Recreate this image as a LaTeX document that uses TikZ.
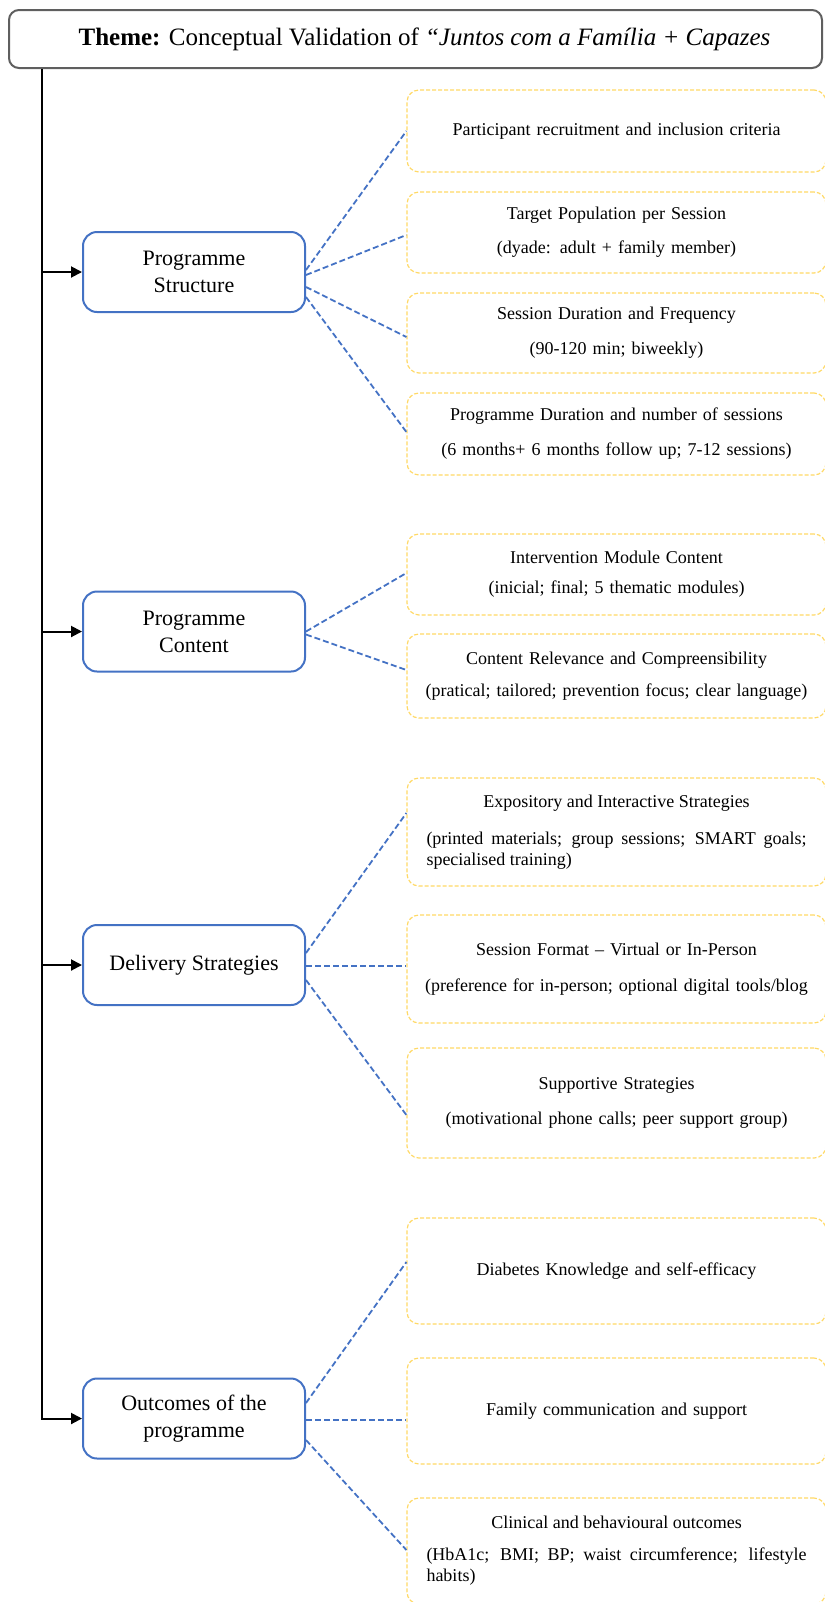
\documentclass[tikz,border=0pt]{standalone}
\usepackage{fontspec}
\setmainfont{Liberation Serif}
\usetikzlibrary{arrows.meta,calc}
\definecolor{linkblue}{RGB}{68,114,196}
\definecolor{softyellow}{RGB}{255,217,102}
\definecolor{framegrey}{RGB}{95,95,95}
\begin{document}
\begin{tikzpicture}[x=0.5pt,y=-0.5pt,
  theme/.style={draw=framegrey,line width=1pt,rounded corners=5pt,minimum width=406.5pt,minimum height=29pt,inner sep=0pt,font=\fontsize{12.5}{15}\selectfont},
  topic/.style={draw=linkblue,line width=1pt,rounded corners=7pt,minimum width=111pt,minimum height=40pt,inner sep=0pt,align=center,font=\fontsize{11}{13.5}\selectfont},
  item/.style={draw=softyellow,line width=0.6pt,dash pattern=on 2pt off 1pt,rounded corners=6pt,minimum width=209.5pt,text width=200pt,align=center,font=\fontsize{9}{10.5}\selectfont},
  longitem/.style={item,text width=190pt,align=justify},
  link/.style={draw=linkblue,line width=0.9pt,dash pattern=on 3pt off 1.5pt},
  trunk/.style={line width=1pt,-{Triangle[length=5.5pt,width=5.5pt]}}]
  \useasboundingbox (0,0) rectangle (825,1602);
  \node[theme] (theme) at (415.5,39) {\hspace*{9pt}\textbf{Theme:} Conceptual Validation of \textit{“Juntos com a Família + Capazes}};
  % left column
  \node[topic] (struct) at (194,272) {Programme\\Structure};
  \node[topic] (content) at (194,631.5) {Programme\\Content};
  \node[topic] (deliv) at (194,965) {Delivery Strategies};
  \node[topic] (outc) at (194,1418.5) {Outcomes of the\\programme};
  % right column
  \node[item,minimum height=41pt] (s1) at (616.5,131) {Participant recruitment and inclusion criteria};
  \node[item,minimum height=40.5pt] (s2) at (616.5,232.5) {Target Population per Session\\[6.5pt](dyade: adult + family member)};
  \node[item,minimum height=40pt] (s3) at (616.5,333) {Session Duration and Frequency\\[7pt](90-120 min; biweekly)};
  \node[item,minimum height=41pt] (s4) at (616.5,434) {Programme Duration and number of sessions\\[7pt](6 months+ 6 months follow up; 7-12 sessions)};
  \node[item,minimum height=40.5pt] (c1) at (616.5,574.5) {Intervention Module Content\\[4.5pt](inicial; final; 5 thematic modules)};
  \node[item,minimum height=42pt] (c2) at (616.5,676) {Content Relevance and Compreensibility\\[5.5pt](pratical; tailored; prevention focus; clear language)};
  \node[longitem,minimum height=54pt] (d1) at (616.5,832) {\makebox[190pt]{Expository and Interactive Strategies}\\[8pt](printed materials; group sessions; SMART goals; specialised training)};
  \node[item,minimum height=54pt] (d2) at (616.5,969) {Session Format – Virtual or In-Person\\[7.5pt](preference for in-person; optional digital tools/blog};
  \node[item,minimum height=55pt] (d3) at (616.5,1103) {Supportive Strategies\\[7pt](motivational phone calls; peer support group)};
  \node[item,minimum height=53pt] (o1) at (616.5,1271) {Diabetes Knowledge and self-efficacy};
  \node[item,minimum height=53pt] (o2) at (616.5,1411) {Family communication and support};
  \node[longitem,minimum height=53pt] (o3) at (616.5,1551) {\makebox[190pt]{Clinical and behavioural outcomes}\\[5.5pt](HbA1c; BMI; BP; waist circumference; lifestyle habits)};
  % trunk
  \coordinate (top) at ($(theme.south west)+(34,0)$);
  \draw[trunk] (top) |- (outc.west);
  \draw[trunk] (top |- struct.west) -- (struct.west);
  \draw[trunk] (top |- content.west) -- (content.west);
  \draw[trunk] (top |- deliv.west) -- (deliv.west);
  % links
  \draw[link] ($(struct.east)+(0,-2)$) -- (s1.west);
  \draw[link] ($(struct.east)+(0,3)$) -- ($(s2.west)+(0,2.5)$);
  \draw[link] ($(struct.east)+(0,15)$) -- ($(s3.west)+(0,4)$);
  \draw[link] ($(struct.east)+(0,25)$) -- ($(s4.west)+(0,-2)$);
  \draw[link] (content.east) -- ($(c1.west)+(0,-1.5)$);
  \draw[link] ($(content.east)+(0,3)$) -- ($(c2.west)+(0,-6)$);
  \draw[link] ($(deliv.east)+(0,-12)$) -- ($(d1.west)+(0,-19)$);
  \draw[link] ($(deliv.east)+(0,1)$) -- ($(d2.west)+(0,-3)$);
  \draw[link] ($(deliv.east)+(0,15)$) -- ($(d3.west)+(0,12)$);
  \draw[link] ($(outc.east)+(0,-15.5)$) -- ($(o1.west)+(0,-9)$);
  \draw[link] ($(outc.east)+(0,1.5)$) -- ($(o2.west)+(0,9)$);
  \draw[link] ($(outc.east)+(0,21.5)$) -- ($(o3.west)+(0,-1)$);
\end{tikzpicture}
\end{document}
